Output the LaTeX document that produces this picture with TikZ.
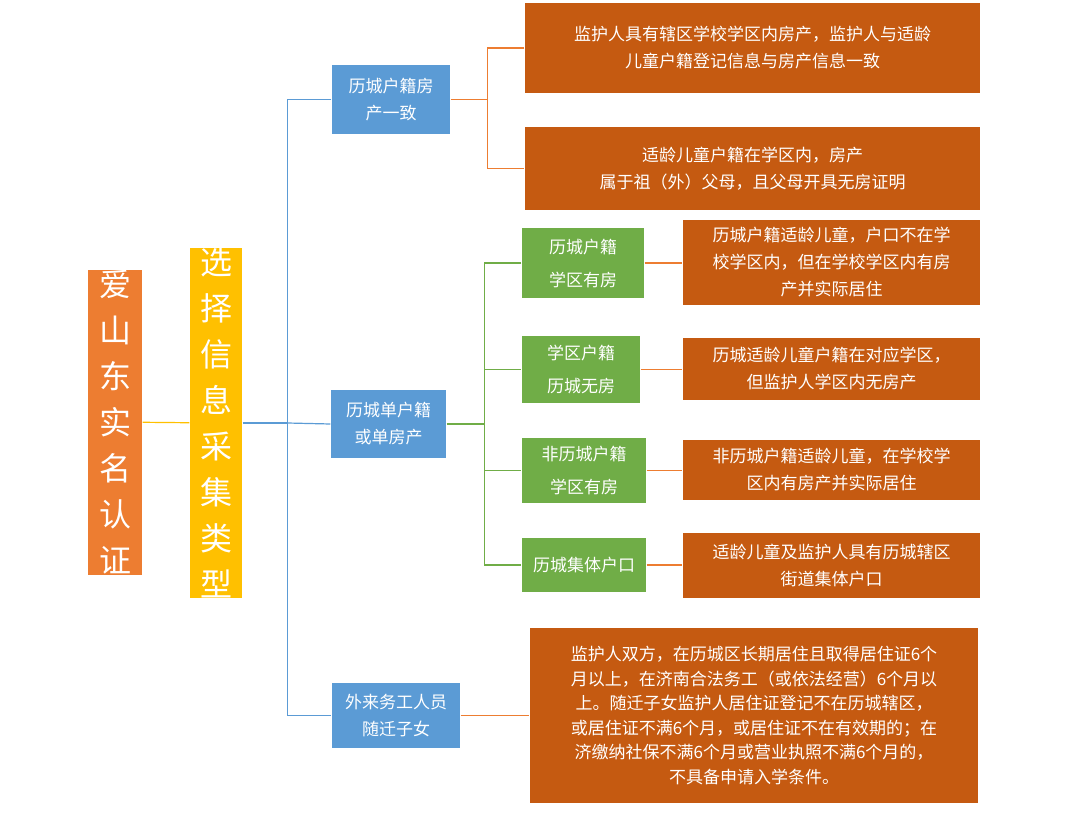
\documentclass[tikz,border=0pt]{standalone}
\usepackage{fontspec}
\setmainfont{Noto Sans CJK SC}
\definecolor{cOrange}{RGB}{237,125,49}
\definecolor{cYellow}{RGB}{255,192,0}
\definecolor{cBlue}{RGB}{91,155,213}
\definecolor{cGreen}{RGB}{112,173,71}
\definecolor{cRust}{RGB}{197,90,17}
\tikzset{every picture/.style={line width=1.2pt}}
\tikzset{
  box/.style={draw=none,text=white,inner sep=0pt,align=center,font=\fontsize{17}{27}\selectfont},
  tall/.style={box,font=\fontsize{32}{46}\selectfont},
}
\begin{document}
\begin{tikzpicture}[x=1pt,y=1pt,yscale=-1,xscale=1]
\useasboundingbox (0,0) rectangle (1080,833);

% Root
\node (root) [tall,fill=cOrange,minimum width=54,minimum height=305] at (115,422) {爱\\山\\东\\实\\名\\认\\证};
\node (kind) [tall,fill=cYellow,minimum width=52,minimum height=313] at (216,423) {选\\择\\信\\息\\采\\集\\类\\型};

% Level 2
\node (same) [box,fill=cBlue,minimum width=118,minimum height=69] at (391,99.5) {历城户籍房\\产一致};
\node (single) [box,fill=cBlue,minimum width=115,minimum height=68] at (388.5,424) {历城单户籍\\或单房产};
\node (migr) [box,fill=cBlue,minimum width=128,minimum height=65] at (396,715.5) {外来务工人员\\随迁子女};

% Level 3
\node (g1) [box,fill=cGreen,minimum width=122,minimum height=70,font=\fontsize{17}{33}\selectfont] at (583,263) {历城户籍\\学区有房};
\node (g2) [box,fill=cGreen,minimum width=118,minimum height=67,font=\fontsize{17}{33}\selectfont] at (581,369.5) {学区户籍\\历城无房};
\node (g3) [box,fill=cGreen,minimum width=124,minimum height=65,font=\fontsize{17}{33}\selectfont] at (584,470.5) {非历城户籍\\学区有房};
\node (g4) [box,fill=cGreen,minimum width=124,minimum height=54] at (584,565) {历城集体户口};

% Details
\node (d1) [box,fill=cRust,minimum width=455,minimum height=90] at (752.5,48) {监护人具有辖区学校学区内房产，监护人与适龄\\儿童户籍登记信息与房产信息一致};
\node (d2) [box,fill=cRust,minimum width=455,minimum height=83] at (752.5,168.5) {适龄儿童户籍在学区内，房产\\属于祖（外）父母，且父母开具无房证明};
\node (d3) [box,fill=cRust,minimum width=297,minimum height=85] at (831.5,262.5) {历城户籍适龄儿童，户口不在学\\校学区内，但在学校学区内有房\\产并实际居住};
\node (d4) [box,fill=cRust,minimum width=297,minimum height=62] at (831.5,369) {历城适龄儿童户籍在对应学区，\\但监护人学区内无房产};
\node (d5) [box,fill=cRust,minimum width=297,minimum height=60] at (831.5,470) {非历城户籍适龄儿童，在学校学\\区内有房产并实际居住};
\node (d6) [box,fill=cRust,minimum width=297,minimum height=65] at (831.5,565.5) {适龄儿童及监护人具有历城辖区\\街道集体户口};
\node (d7) [box,fill=cRust,minimum width=448,minimum height=175,font=\fontsize{17}{24.5}\selectfont] at (754,715.5) {监护人双方，在历城区长期居住且取得居住证6个\\月以上，在济南合法务工（或依法经营）6个月以\\上。随迁子女监护人居住证登记不在历城辖区，\\或居住证不满6个月，或居住证不在有效期的；在\\济缴纳社保不满6个月或营业执照不满6个月的，\\不具备申请入学条件。};

% Connectors
\draw [cYellow] (root) -- (kind);
\draw [cBlue] (kind.east) -- ++(45,0) coordinate (bt);
\draw [cBlue] (same.west) -| (bt) |- (migr.west);
\draw [cBlue] (bt) -- (single.west);
\draw [cOrange] (same.east) -- ++(37,0) coordinate (ot);
\draw [cOrange] (d1.west) -| (ot) |- (d2.west);
\draw [cGreen] (single.east) -- ++(38,0) coordinate (gt);
\draw [cGreen] (g1.west) -| (gt) |- (g4.west);
\draw [cGreen] (gt |- g2.west) -- (g2.west);
\draw [cGreen] (gt |- g3.west) -- (g3.west);
\foreach \a/\b in {g1/d3,g2/d4,g3/d5,g4/d6,migr/d7}
  \draw [cOrange] (\a) -- (\a -| \b.west);
\end{tikzpicture}
\end{document}
